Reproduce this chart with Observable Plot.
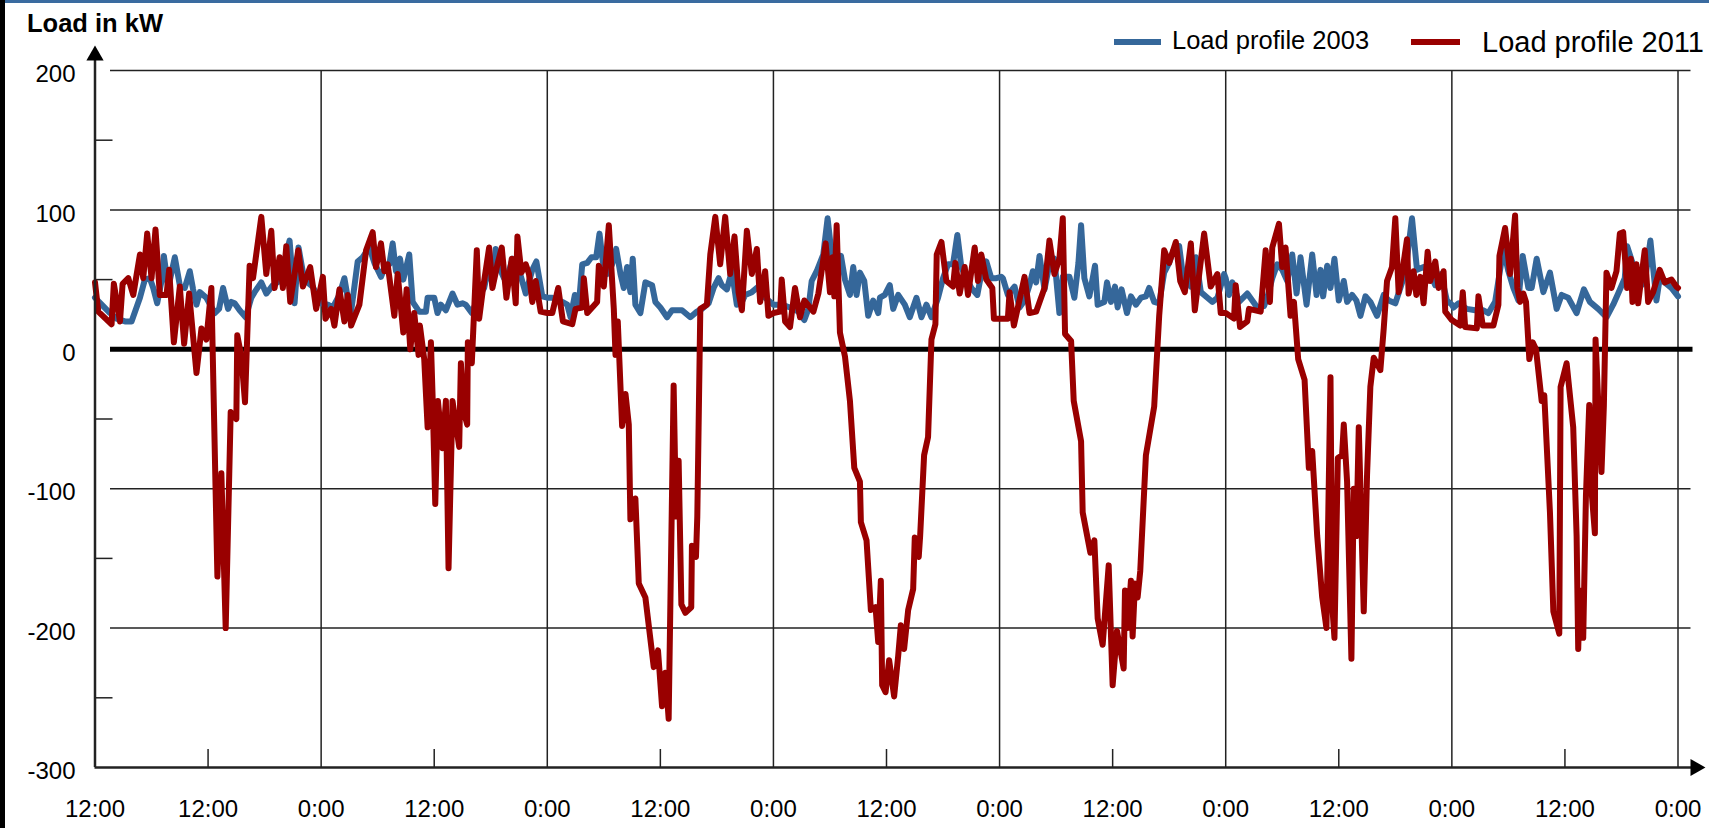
<!DOCTYPE html>
<html>
<head>
<meta charset="utf-8">
<script src="https://cdn.jsdelivr.net/npm/d3@7"></script>
<script src="https://cdn.jsdelivr.net/npm/@observablehq/plot@0.6"></script>
<style>
html, body { margin: 0; padding: 0; background: #fff; }
#wrap { position: relative; width: 1709px; height: 828px; overflow: hidden; font-family: "Liberation Sans", Arial, sans-serif; }
.abs { position: absolute; white-space: nowrap; line-height: 1; color: #000; }
</style>
</head>
<body>
<div id="wrap">
  <div id="chart"></div>
  <div class="abs" style="left:0;top:0;width:5px;height:828px;background:#000"></div>
  <div class="abs" style="left:5px;top:0;width:1704px;height:3px;background:#3a6ba0"></div>
  <div class="abs" style="left:27px;top:10.5px;font-size:25.5px;font-weight:bold">Load in kW</div>
  <div id="legend"></div>
</div>
<script>
// ---- data (hours since start of week, load in kW) ----
const seriesNames = ["Load profile 2003", "Load profile 2011"];
const seriesColors = ["#35679a", "#990000"];

const xTicks = [0, 12, 24, 36, 48, 60, 72, 84, 96, 108, 120, 132, 144, 156, 168];
const xTickLabels = ["12:00", "12:00", "0:00", "12:00", "0:00", "12:00", "0:00", "12:00", "0:00", "12:00", "0:00", "12:00", "0:00", "12:00", "0:00"];
const dayGrid = [24, 48, 72, 96, 120, 144, 168];
const halfDayTicks = [12, 36, 60, 84, 108, 132, 156];
const yTicks = [200, 100, 0, -100, -200, -300];
const yGrid = [200, 100, -100, -200];
const yMinor = [150, 50, -50, -150, -250];

const profile2003 = [
[0,37],[0.71,32],[1.59,26],[2.29,22],[3.18,20],[3.88,20],[4.77,37],[5.29,50],[5.82,51],[6.18,44],[6.6,33],[7.06,49],[7.31,67],[7.77,44],[8.47,66],[9.0,46],[9.53,44],[10.06,56],[10.41,43],[10.77,32],[11.12,41],[11.82,37],[12.71,26],[13.17,29],[13.59,44],[14.12,29],[14.47,34],[14.82,33],[15.35,28],[15.99,23],[16.59,37],[16.94,41],[17.65,48],[18.18,40],[18.88,46],[19.59,49],[20.65,78],[21.18,33],[21.6,73],[22.2,50],[23.1,45],[24.0,33],
[24.71,32],[25.24,30],[25.94,39],[26.47,51],[26.82,37],[27.18,27],[27.88,63],[28.41,66],[29.12,73],[29.65,62],[30.35,52],[30.71,58],[31.24,61],[31.59,76],[31.94,56],[32.37,65],[32.72,50],[33.35,68],[33.71,34],[34.41,27],[35.12,27],[35.3,37],[36.0,37],[36.35,26],[36.71,32],[37.24,28],[37.94,40],[38.47,32],[39.0,33],[39.35,32],[39.99,26],[40.77,39],[41.3,44],[41.83,61],[42.18,46],[42.53,72],[42.88,59],[43.41,51],[43.94,56],[44.3,65],[45.0,57],[45.71,40],[46.41,57],[46.84,63],[47.47,38],[48.0,37],
[48.53,37],[49.59,34],[50.12,32],[50.47,23],[50.93,39],[51.35,32],[51.71,61],[52.24,62],[52.69,66],[53.19,66],[53.54,83],[53.89,63],[54.35,54],[54.88,61],[55.31,72],[55.77,54],[56.12,44],[56.47,59],[56.82,41],[57.07,65],[57.35,32],[57.88,26],[58.41,48],[59.12,46],[59.47,34],[60.0,30],[60.71,23],[61.24,28],[62.3,28],[63.18,23],[63.88,27],[64.41,29],[65.12,33],[65.65,44],[66.18,51],[66.53,46],[67.06,43],[67.59,56],[68.12,32],[68.65,34],[69.0,39],[69.71,41],[70.41,45],[71.12,37],[71.83,33],
[72.0,32],[72.88,32],[73.76,30],[74.65,27],[75.28,21],[75.71,29],[76.06,49],[76.59,56],[77.29,68],[77.75,94],[78.18,68],[78.53,49],[79.17,67],[79.59,50],[80.12,39],[80.47,59],[80.82,39],[81.18,55],[81.64,49],[82.06,24],[82.59,35],[83.12,26],[83.3,37],[83.82,39],[84.35,46],[84.71,29],[85.24,39],[85.94,32],[86.47,23],[87.18,37],[87.71,23],[88.24,32],[88.77,23],[89.47,37],[90.0,51],[90.53,61],[91.06,61],[91.52,82],[91.94,59],[92.47,51],[93.0,44],[93.64,39],[94.06,54],[94.59,63],[95.12,51],[95.65,51],[96.18,52],
[96.35,51],[96.88,39],[97.59,45],[98.12,30],[98.65,35],[99.18,46],[99.53,56],[99.88,48],[100.24,67],[100.77,43],[101.29,61],[101.82,65],[102.35,26],[102.71,52],[103.41,52],[103.94,37],[104.37,62],[104.65,89],[105.0,51],[105.53,38],[106.13,60],[106.41,32],[107.12,34],[107.4,48],[107.82,34],[108.25,45],[108.53,30],[108.95,43],[109.52,26],[109.94,38],[110.47,32],[111.0,37],[111.53,38],[111.88,44],[112.41,34],[112.94,33],[113.47,55],[114.0,62],[114.46,71],[115.06,74],[115.59,46],[115.94,51],[116.3,45],[116.83,66],[117.36,41],[118.06,37],[118.59,34],[119.12,37],[119.83,54],
[120.0,51],[120.35,39],[120.71,48],[121.41,34],[122.29,40],[123.35,30],[124.06,31],[124.41,37],[124.94,51],[125.47,61],[126.0,57],[126.53,49],[127.06,68],[127.52,40],[127.94,66],[128.58,32],[129.18,68],[129.64,39],[130.06,57],[130.34,38],[130.77,60],[131.12,44],[131.54,65],[132.0,35],[132.53,49],[132.88,34],[133.41,39],[133.87,35],[134.3,24],[134.83,38],[135.35,34],[136.06,24],[136.77,39],[137.3,35],[138.0,33],[138.53,44],[139.06,55],[139.77,94],[140.3,57],[141.0,59],[141.71,54],[142.24,46],[142.84,54],[143.47,35],[144.0,32],
[144.18,30],[144.71,33],[145.59,29],[146.47,28],[147.35,28],[147.88,26],[148.59,34],[149.12,57],[149.47,72],[150.0,56],[150.53,44],[151.06,35],[151.52,67],[152.12,44],[152.47,44],[153.0,65],[153.71,41],[154.41,55],[155.12,29],[155.65,39],[156.35,37],[157.24,26],[158.01,43],[158.65,34],[159.53,29],[160.41,23],[161.12,32],[161.65,40],[162.35,51],[162.6,74],[163.17,62],[163.77,44],[164.47,48],[165.07,78],[165.71,35],[166.06,51],[166.59,48],[167.3,44],[168.0,38]
];

const profile2011 = [
[0,48],[0.35,27],[1.76,18],[2.0,47],[2.65,20],[2.93,47],[3.53,51],[4.06,39],[4.77,68],[5.12,51],[5.54,83],[6.0,51],[6.42,86],[6.88,39],[7.59,39],[7.87,57],[8.37,5],[9.0,45],[9.46,4],[9.99,40],[10.77,-17],[11.3,15],[11.82,7],[12.35,44],[12.99,-163],[13.41,-89],[13.87,-200],[14.4,-45],[15.0,-50],[15.1,10],[15.53,-5],[15.92,-38],[16.41,60],[16.77,51],[17.65,95],[18.18,54],[18.71,85],[19.06,44],[19.59,66],[19.94,44],[20.3,74],[20.72,34],[21.57,71],[22.06,45],[22.84,59],[23.47,29],
[24.18,52],[24.46,22],[25.06,29],[25.41,17],[25.94,43],[26.47,20],[26.82,39],[27.18,17],[28.06,32],[28.77,71],[29.47,84],[29.82,59],[30.35,76],[30.71,56],[31.06,61],[31.77,24],[32.12,54],[32.72,12],[33.07,43],[33.46,0],[33.88,26],[34.34,-4],[34.48,17],[34.94,-7],[35.3,-56],[35.65,5],[35.82,-32],[36.11,-111],[36.39,-37],[36.88,-71],[37.24,-37],[37.52,-157],[37.94,-37],[38.65,-70],[38.83,-10],[39.18,-46],[39.5,-54],[39.57,5],[39.99,-10],[40.52,71],[40.77,22],[41.19,44],[41.83,73],[42.18,44],[42.71,61],[43.17,73],[43.66,37],[44.23,65],[44.65,33],[44.83,81],[45.25,55],[45.71,61],[46.06,54],[46.41,34],[46.77,49],[47.3,27],[48.0,26],
[48.53,26],[49.16,44],[49.66,20],[50.65,18],[51.0,29],[51.71,30],[51.88,51],[52.24,26],[53.29,34],[53.47,60],[54.0,45],[54.53,89],[55.06,29],[55.24,-4],[55.48,20],[55.94,-55],[56.3,-32],[56.65,-54],[56.82,-122],[57.35,-107],[57.71,-168],[58.41,-178],[59.3,-228],[59.75,-216],[60.18,-256],[60.53,-232],[60.88,-265],[61.41,-26],[61.66,-120],[61.94,-80],[62.23,-183],[62.65,-189],[63.28,-185],[63.35,-141],[63.78,-149],[63.92,-120],[64.24,29],[64.94,32],[65.3,68],[65.83,95],[66.35,61],[66.88,95],[67.41,54],[67.87,81],[68.3,41],[68.65,28],[69.18,85],[69.71,54],[70.24,72],[70.59,34],[71.12,56],[71.47,24],[72.0,26],
[72.71,27],[72.88,50],[73.24,20],[73.76,16],[74.29,44],[74.82,23],[75.28,35],[76.24,27],[76.77,40],[77.54,76],[78.0,41],[78.28,66],[78.46,38],[78.71,89],[79.06,12],[79.59,-5],[80.12,-37],[80.58,-85],[81.18,-95],[81.28,-124],[81.88,-137],[82.34,-187],[82.84,-185],[83.12,-210],[83.4,-166],[83.54,-241],[83.9,-246],[84.28,-223],[84.81,-249],[85.24,-220],[85.52,-198],[85.87,-215],[86.3,-187],[86.83,-172],[87.0,-135],[87.42,-149],[87.57,-134],[87.99,-76],[88.41,-63],[88.77,7],[89.19,18],[89.33,68],[89.83,77],[90.35,49],[91.06,45],[91.31,62],[91.77,40],[92.3,59],[92.65,39],[93.36,73],[93.71,49],[94.06,68],[94.59,50],[95.23,44],[95.4,22],[96.0,22],
[96.88,22],[97.06,41],[97.52,17],[98.65,52],[99.18,26],[99.88,27],[100.77,44],[101.29,78],[101.82,54],[102.35,65],[102.71,94],[102.95,11],[103.59,6],[103.87,-37],[104.65,-66],[104.82,-117],[105.64,-146],[106.06,-137],[106.41,-193],[106.94,-212],[107.58,-155],[108.0,-241],[108.46,-202],[109.17,-229],[109.31,-173],[109.59,-200],[109.94,-166],[110.12,-206],[110.37,-168],[110.65,-178],[110.93,-159],[111.53,-76],[112.41,-41],[112.94,24],[113.47,71],[114.0,62],[114.71,77],[115.17,49],[115.66,41],[116.3,76],[116.72,28],[117.71,83],[118.41,45],[119.12,54],[119.47,26],[120.0,26],
[120.88,22],[121.06,46],[121.52,16],[122.29,20],[122.47,29],[123.71,27],[124.24,71],[124.69,34],[124.94,73],[125.65,90],[126.0,59],[126.35,73],[126.88,24],[127.24,34],[127.69,-7],[128.37,-22],[128.65,-61],[128.82,-85],[129.18,-73],[129.71,-134],[130.24,-178],[130.69,-200],[131.12,-20],[131.3,-183],[131.54,-207],[131.9,-78],[132.35,-76],[132.53,-54],[132.88,-95],[133.34,-222],[133.59,-100],[133.87,-134],[134.12,-56],[134.65,-188],[135.0,-90],[135.35,-27],[135.71,-6],[136.41,-15],[136.77,15],[137.12,49],[137.65,59],[138.0,94],[138.35,41],[138.71,54],[139.24,79],[139.41,40],[139.94,56],[140.23,39],[140.65,52],[141.0,33],[141.43,70],[141.71,49],[142.24,63],[142.59,44],[143.12,56],[143.3,27],[144.0,21],
[144.88,17],[145.16,41],[145.41,16],[146.65,15],[146.82,38],[147.28,17],[148.41,17],[148.94,32],[149.05,67],[149.65,87],[150.18,54],[150.71,96],[150.95,44],[151.24,34],[151.59,40],[151.87,34],[152.22,-7],[152.58,5],[152.93,0],[153.53,-37],[153.81,-33],[154.41,-117],[154.77,-188],[155.4,-204],[155.54,-27],[156.18,-10],[156.88,-56],[157.24,-134],[157.41,-215],[157.59,-173],[157.94,-207],[158.23,-105],[158.58,-40],[158.83,-102],[159.18,-132],[159.25,7],[159.53,-37],[159.88,-88],[160.13,-41],[160.41,55],[160.94,44],[161.47,56],[161.83,83],[162.18,84],[162.6,44],[162.99,65],[163.17,34],[163.59,61],[163.77,33],[164.47,71],[164.83,34],[165.36,41],[166.06,57],[166.59,48],[167.3,50],[167.82,45],[168.0,44]
];

// ---- layout ----
const W = 1709, H = 828;
const ML = 94.5, MR = 31.5, MT = 70, MB = 61;
const FW = W - ML - MR, FH = H - MT - MB;
const xDomain = [xTicks[0], xTicks[xTicks.length - 1]];
const yDomain = [yTicks[yTicks.length - 1], yTicks[0]];
const axisColor = "#222";

const chart = Plot.plot({
  width: W, height: H,
  marginLeft: ML, marginRight: MR, marginTop: MT, marginBottom: MB,
  style: { fontFamily: '"Liberation Sans", Arial, sans-serif', fontSize: "24px", color: "#000", background: "#fff", overflow: "visible" },
  x: { domain: xDomain, axis: null },
  y: { domain: yDomain, axis: null },
  marks: [
    Plot.ruleX(dayGrid, { stroke: axisColor, strokeWidth: 1.5 }),
    Plot.ruleY(yGrid, { stroke: axisColor, strokeWidth: 1.5, insetLeft: 15.5, insetRight: -13 }),
    Plot.ruleX(halfDayTicks, { stroke: axisColor, strokeWidth: 1.5, insetTop: FH - 18 }),
    Plot.ruleY(yMinor, { stroke: axisColor, strokeWidth: 1.5, insetRight: FW - 18 }),
    Plot.ruleY([0], { stroke: "#000", strokeWidth: 5, insetLeft: 15.5, insetRight: -15 }),
    Plot.line(profile2003, { x: d => d[0], y: d => d[1], stroke: seriesColors[0], strokeWidth: 6, strokeLinejoin: "round", strokeLinecap: "round" }),
    Plot.line(profile2011, { x: d => d[0], y: d => d[1], stroke: seriesColors[1], strokeWidth: 6, strokeLinejoin: "round", strokeLinecap: "round" }),
    Plot.ruleX([xDomain[0]], { stroke: axisColor, strokeWidth: 2.5, insetTop: -12 }),
    Plot.ruleY([yDomain[0]], { stroke: axisColor, strokeWidth: 2.5, insetRight: -14 }),
    Plot.dot([xDomain[0]], { x: d => d, y: () => yDomain[1], symbol: "triangle", r: 6.4, fill: "#000", stroke: null, dy: -15 }),
    Plot.dot([xDomain[1]], { x: d => d, y: () => yDomain[0], symbol: "triangle", r: 6.4, rotate: 90, fill: "#000", stroke: null, dx: 17.5 }),
    Plot.axisY(yTicks, { tickSize: 0, tickPadding: 19.5, dy: 4, fontSize: 24, tickFormat: d => String(d) }),
    Plot.axisX(xTicks, { tickSize: 0, tickPadding: 32, fontSize: 24, tickFormat: d => xTickLabels[xTicks.indexOf(d)] })
  ]
});
document.getElementById("chart").appendChild(chart);

// ---- legend ----
const legendLayout = [
  { sx: 1114, sw: 47, tx: 1172, top: 28.4, fs: 25.5 },
  { sx: 1411, sw: 49, tx: 1482, top: 27.5, fs: 29 }
];
const legend = document.getElementById("legend");
seriesNames.forEach((name, i) => {
  const L = legendLayout[i];
  const sw = document.createElement("div");
  sw.className = "abs";
  sw.style.cssText = `left:${L.sx}px;top:39px;width:${L.sw}px;height:6px;background:${seriesColors[i]}`;
  legend.appendChild(sw);
  const t = document.createElement("div");
  t.className = "abs";
  t.style.cssText = `left:${L.tx}px;top:${L.top}px;font-size:${L.fs}px`;
  t.textContent = name;
  legend.appendChild(t);
});
</script>
</body>
</html>
